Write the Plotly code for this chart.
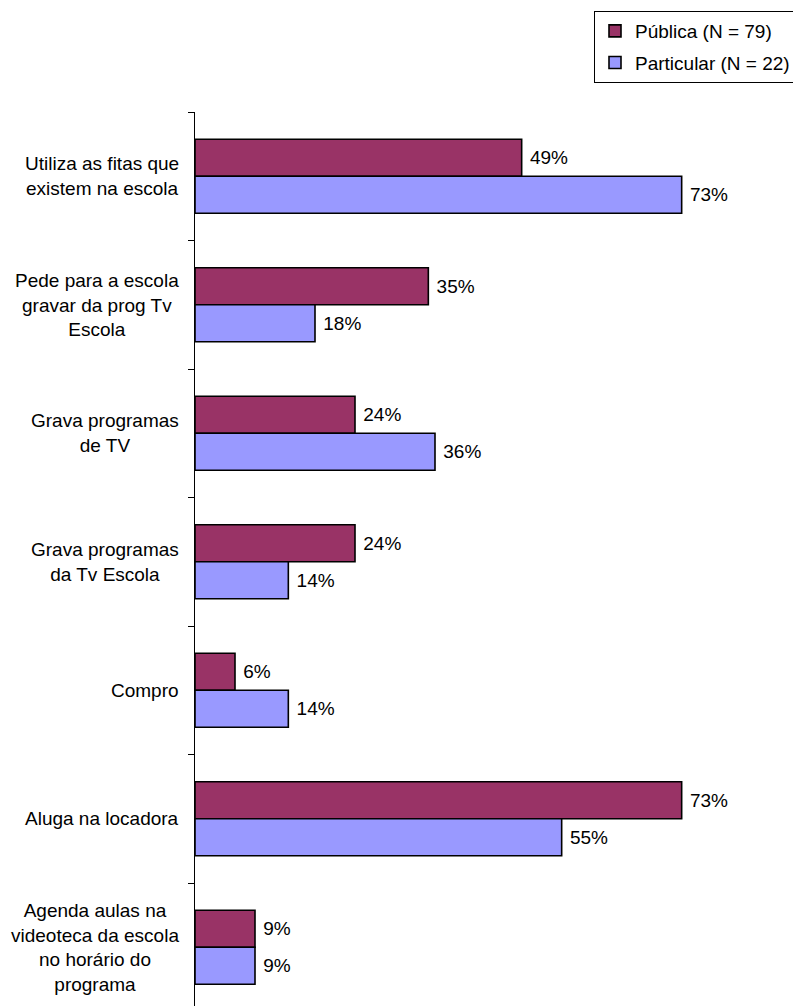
import plotly.graph_objects as go

# Categories (top to bottom) and share of answers per school type, in %
categorias = [
    "Utiliza as fitas que<br>existem na escola",
    "Pede para a escola<br>gravar da prog Tv<br>Escola",
    "Grava programas<br>de TV",
    "Grava programas<br>da Tv Escola",
    "Compro",
    "Aluga na locadora",
    "Agenda aulas na<br>videoteca da escola<br>no horário do<br>programa",
]
publica = [49, 35, 24, 24, 6, 73, 9]
particular = [73, 18, 36, 14, 14, 55, 9]

nome_publica = "Pública (N = 79)"
nome_particular = "Particular (N = 22)"

FONT = "Arial, 'Liberation Sans', sans-serif"

fig = go.Figure()
fig.add_trace(go.Bar(
    y=categorias, x=publica, orientation="h", name=nome_publica,
    legendgroup="a",
    marker=dict(color="#993366", line=dict(color="#000000", width=1.6)),
    texttemplate=" %{x}%", textposition="outside",
    textfont=dict(family=FONT, size=19, color="#000000"),
    cliponaxis=False,
))
fig.add_trace(go.Bar(
    y=categorias, x=particular, orientation="h", name=nome_particular,
    legendgroup="b",
    marker=dict(color="#9999FF", line=dict(color="#000000", width=1.6)),
    texttemplate=" %{x}%", textposition="outside",
    textfont=dict(family=FONT, size=19, color="#000000"),
    cliponaxis=False,
))

# Category labels, centred line by line to the left of the axis
for cat in categorias:
    fig.add_annotation(
        x=0, xref="paper", y=cat, yref="y",
        text=cat, showarrow=False, xanchor="right", yanchor="middle",
        xshift=-14, align="center",
        font=dict(family=FONT, size=19, color="#000000"),
    )

fig.update_layout(
    width=793, height=1006,
    margin=dict(l=195, r=8, t=112, b=0, autoexpand=False),
    paper_bgcolor="white", plot_bgcolor="white",
    barmode="group", bargap=0.424, bargroupgap=0,
    font=dict(family=FONT, size=19, color="#000000"),
    showlegend=True,
    legend=dict(
        xref="container", yref="container",
        x=594 / 793, y=1 - 11 / 1006,
        xanchor="left", yanchor="top",
        traceorder="grouped", tracegroupgap=4,
        bordercolor="#000000", borderwidth=1, bgcolor="white",
        font=dict(family=FONT, size=19, color="#000000"),
    ),
    xaxis=dict(range=[0, 88.5], visible=False, fixedrange=True),
    yaxis=dict(
        autorange=False, range=[6.457, -0.5],
        showticklabels=False, tickson="boundaries",
        ticks="outside", ticklen=6, tickcolor="#000000", tickwidth=1,
        showline=True, linecolor="#000000", linewidth=1,
        showgrid=False, zeroline=False, fixedrange=True,
    ),
)

fig.write_html("out.html")
